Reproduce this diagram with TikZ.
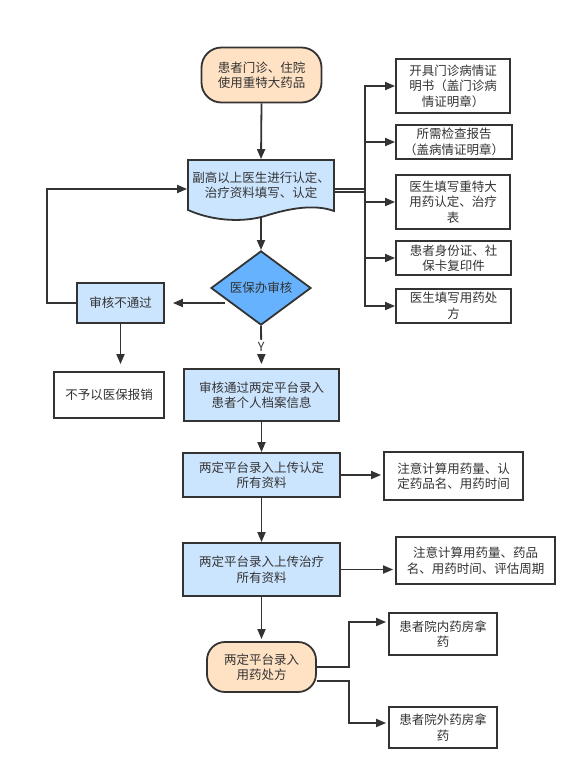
\documentclass[tikz,border=0pt]{standalone}
\usepackage{fontspec}
\newfontfamily\cjk{Noto Sans CJK SC}
\usetikzlibrary{shapes.geometric, arrows.meta, calc}

\definecolor{peach}{HTML}{FFE1C4}
\definecolor{lightblue}{HTML}{CCE5FF}
\definecolor{midblue}{HTML}{66B2FF}
\definecolor{linegray}{HTML}{333333}

\tikzset{
    base/.style={draw=linegray, line width=1.8pt, text=linegray, align=center, inner sep=0pt,
        font=\cjk\fontsize{12.5}{15.5}\selectfont},
    startstop/.style={base, fill=peach, rounded corners=18pt},
    process/.style={base, fill=lightblue},
    infobox/.style={base, fill=white},
    decision/.style={base, diamond, fill=midblue, minimum width=100pt, minimum height=70pt},
    flowline/.style={draw=linegray, line width=1.8pt, -{Triangle[length=10pt, width=8pt]}},
}

\begin{document}
\begin{tikzpicture}[x=1pt, y=-1pt]
        \useasboundingbox (0,0) rectangle (585,780);

        % Draw document shape
        \filldraw[fill=lightblue, draw=linegray, line width=1.8pt] (188,160) -- (334,160) -- (334,211)
            .. controls (315,204) and (290,208) .. (265,216)
            .. controls (245,222) and (215,222) .. (188,210) -- cycle;

        % Main column
        \node[startstop, minimum width=120pt, minimum height=55pt, rounded corners=20pt] (start) at (261.5,75) {患者门诊、住院\\使用重特大药品};
        \node[base, draw=none, minimum width=146pt, minimum height=50pt] (doc) at (261,185) {副高以上医生进行认定、\\治疗资料填写、认定};
        \node[decision] (dia) at (261,288) {医保办审核};
        \node[process, minimum width=155pt, minimum height=52pt] (pass) at (261.5,395) {审核通过两定平台录入\\患者个人档案信息};
        \node[process, minimum width=157pt, minimum height=44pt] (up1) at (261.5,475) {两定平台录入上传认定\\所有资料};
        \node[process, minimum width=157pt, minimum height=53pt] (up2) at (261.5,569.5) {两定平台录入上传治疗\\所有资料};
        \node[startstop, minimum width=109pt, minimum height=50pt] (end) at (261.5,667) {两定平台录入\\用药处方};

        % Left column
        \node[process, minimum width=87pt, minimum height=40pt] (fail) at (120.5,303) {审核不通过};
        \node[infobox, minimum width=110pt, minimum height=46pt] (noreimb) at (109,395) {不予以医保报销};

        % Right column
        \node[infobox, minimum width=114pt, minimum height=54pt] (r1) at (453,86) {开具门诊病情证\\明书（盖门诊病\\情证明章）};
        \node[infobox, minimum width=116pt, minimum height=34pt] (r2) at (454,142) {所需检查报告\\（盖病情证明章）};
        \node[infobox, minimum width=114pt, minimum height=54pt] (r3) at (453,202) {医生填写重特大\\用药认定、治疗\\表};
        \node[infobox, minimum width=115pt, minimum height=34pt] (r4) at (453.5,258) {患者身份证、社\\保卡复印件};
        \node[infobox, minimum width=115pt, minimum height=34pt] (r5) at (453.5,306) {医生填写用药处\\方};
        \node[infobox, minimum width=139pt, minimum height=48pt] (note1) at (453.5,476) {注意计算用药量、认\\定药品名、用药时间};
        \node[infobox, minimum width=159pt, minimum height=47pt] (note2) at (475.5,560.5) {注意计算用药量、药品\\名、用药时间、评估周期};
        \node[infobox, minimum width=108pt, minimum height=42pt] (inbox) at (443,634) {患者院内药房拿\\药};
        \node[infobox, minimum width=108pt, minimum height=41pt] (outbox) at (443,727.5) {患者院外药房拿\\药};

        % Draw connectors
        \coordinate (bus) at (365,190.5);
        \coordinate (split) at (349,667);
        \coordinate (endlow) at ($(end.east)+(0,14)$);

        \draw[flowline] (start.south) -- (doc.north);
        \draw[linegray, double=white, double distance=1.5pt, line width=1.4pt] (doc.east |- bus) -- (bus);
        \draw[flowline] (bus) |- (r1.west);
        \draw[flowline] (bus) |- (r2.west);
        \draw[flowline] (bus) |- (r3.west);
        \draw[flowline] (bus) |- (r4.west);
        \draw[flowline] (bus) |- (r5.west);
        \draw[flowline] ($(doc.south)+(0,7)$) -- (dia.north);
        \draw[flowline, shorten >=8pt] ($(fail.east -| dia.south west)+(-11,0)$) -- (fail.east);
        \draw[flowline] (fail.west) -- ++(-29,0) |- ($(doc.west)+(0,4)$);
        \draw[flowline, shorten >=7pt] (fail.south) -- (fail.south |- noreimb.north);
        \draw[flowline, shorten >=4pt] (dia.south) -- node[fill=white, inner sep=2pt, text=linegray, font=\cjk\fontsize{12.5}{15.5}\selectfont] {Y} (pass.north);
        \draw[flowline] (pass.south) -- (up1.north);
        \draw[flowline, shorten >=2pt] (up1.east) -- (up1.east -| note1.west);
        \draw[flowline] (up1.south) -- (up2.north);
        \draw[flowline, shorten >=2pt] (up2.east) -- (up2.east -| note2.west);
        \draw[flowline, shorten >=2pt] (up2.south) -- (end.north);
        \draw[flowline, shorten >=2pt] (end.east) -- (split) |- ($(inbox.west)+(0,-12)$);
        \draw[flowline, shorten >=2pt] (endlow) -- (endlow -| split) |- ($(outbox.west)+(0,-4.5)$);

\end{tikzpicture}
\end{document}
